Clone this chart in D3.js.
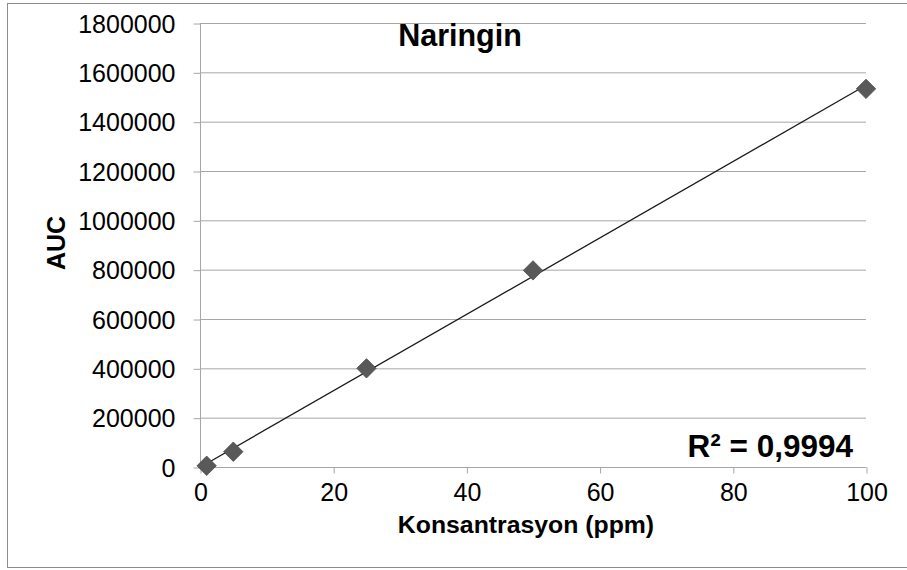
<!DOCTYPE html>
<html>
<head>
<meta charset="utf-8">
<script src="https://cdn.jsdelivr.net/npm/d3@7"></script>
<style>
  body { margin: 0; background: #fff; }
  text { font-family: "Liberation Sans", Arial, Helvetica, sans-serif; fill: #000; }
</style>
</head>
<body>
<main></main>
<script>
// data
const concentrations = [1, 5, 25, 50, 100];
const aucValues = [5000, 62000, 400000, 797000, 1533000];
const yTicks = [0, 200000, 400000, 600000, 800000, 1000000, 1200000, 1400000, 1600000, 1800000];
const xTicks = [0, 20, 40, 60, 80, 100];
const rSquaredLabel = "R² = 0,9994";

const width = 907, height = 570;
const margin = { top: 23, right: 41, bottom: 103, left: 200 };

const svg = d3.select("main").append("svg")
  .attr("width", width)
  .attr("height", height);

// outer chart border
svg.append("rect")
  .attr("x", 7.5).attr("y", 3.5)
  .attr("width", 920).attr("height", 564)
  .attr("fill", "none")
  .attr("stroke", "#8c8c8c");

const x = d3.scaleLinear().domain([0, 100]).range([margin.left, width - margin.right]);
const y = d3.scaleLinear().domain([0, 1800000]).range([height - margin.bottom, margin.top]);

// gridlines
svg.append("g").selectAll("line")
  .data(yTicks.slice(1))
  .enter().append("line")
  .attr("x1", x(0)).attr("x2", x(100))
  .attr("y1", d => y(d) + 0.5).attr("y2", d => y(d) + 0.5)
  .attr("stroke", "#a6a6a6");

// y axis
const yAxis = svg.append("g")
  .attr("transform", `translate(${x(0) + 0.5},0.5)`)
  .call(d3.axisLeft(y).tickValues(yTicks).tickSize(7).tickPadding(18).tickFormat(d3.format("d")));
yAxis.selectAll("path, line").attr("stroke", "#a6a6a6");
yAxis.select(".domain").attr("d", `M0,${y(0)}V${y(1800000)}`);
yAxis.selectAll("text").style("font-size", "25px").attr("dy", "0.35em");

// x axis
const xAxis = svg.append("g")
  .attr("transform", `translate(0.5,${y(0) + 0.5})`)
  .call(d3.axisBottom(x).tickValues(xTicks).tickSize(6).tickPadding(10));
xAxis.selectAll("path, line").attr("stroke", "#a6a6a6");
xAxis.select(".domain").attr("d", `M${x(0)},0H${x(100)}`);
xAxis.selectAll("text").style("font-size", "25px");

// linear trendline (least squares fit)
const mx = d3.mean(concentrations), my = d3.mean(aucValues);
let sxy = 0, sxx = 0;
concentrations.forEach((c, i) => { sxy += (c - mx) * (aucValues[i] - my); sxx += (c - mx) * (c - mx); });
const slope = sxy / sxx, intercept = my - slope * mx;
const xr = d3.extent(concentrations);

svg.append("line")
  .attr("x1", x(xr[0])).attr("y1", y(intercept + slope * xr[0]))
  .attr("x2", x(xr[1])).attr("y2", y(intercept + slope * xr[1]))
  .attr("stroke", "#1a1a1a")
  .attr("stroke-width", 1.3);

// diamond markers
svg.append("g").selectAll("path")
  .data(concentrations)
  .enter().append("path")
  .attr("d", d3.symbol().type(d3.symbolDiamond2).size(240))
  .attr("transform", (d, i) => `translate(${x(d)},${y(aucValues[i])})`)
  .attr("fill", "#595959")
  .attr("stroke", "#4a4a4a")
  .attr("stroke-width", 0.8);

// titles and labels
svg.append("text")
  .attr("x", 460).attr("y", 46)
  .attr("text-anchor", "middle")
  .style("font-size", "30.5px").style("font-weight", "bold")
  .text("Naringin");

svg.append("text")
  .attr("transform", "translate(65,243) rotate(-90)")
  .attr("text-anchor", "middle")
  .style("font-size", "25px").style("font-weight", "bold")
  .text("AUC");

svg.append("text")
  .attr("x", 526).attr("y", 533)
  .attr("text-anchor", "middle")
  .style("font-size", "24.8px").style("font-weight", "bold")
  .text("Konsantrasyon (ppm)");

svg.append("text")
  .attr("x", 853).attr("y", 457)
  .attr("text-anchor", "end")
  .style("font-size", "31.5px").style("font-weight", "bold")
  .text(rSquaredLabel);
</script>
</body>
</html>
